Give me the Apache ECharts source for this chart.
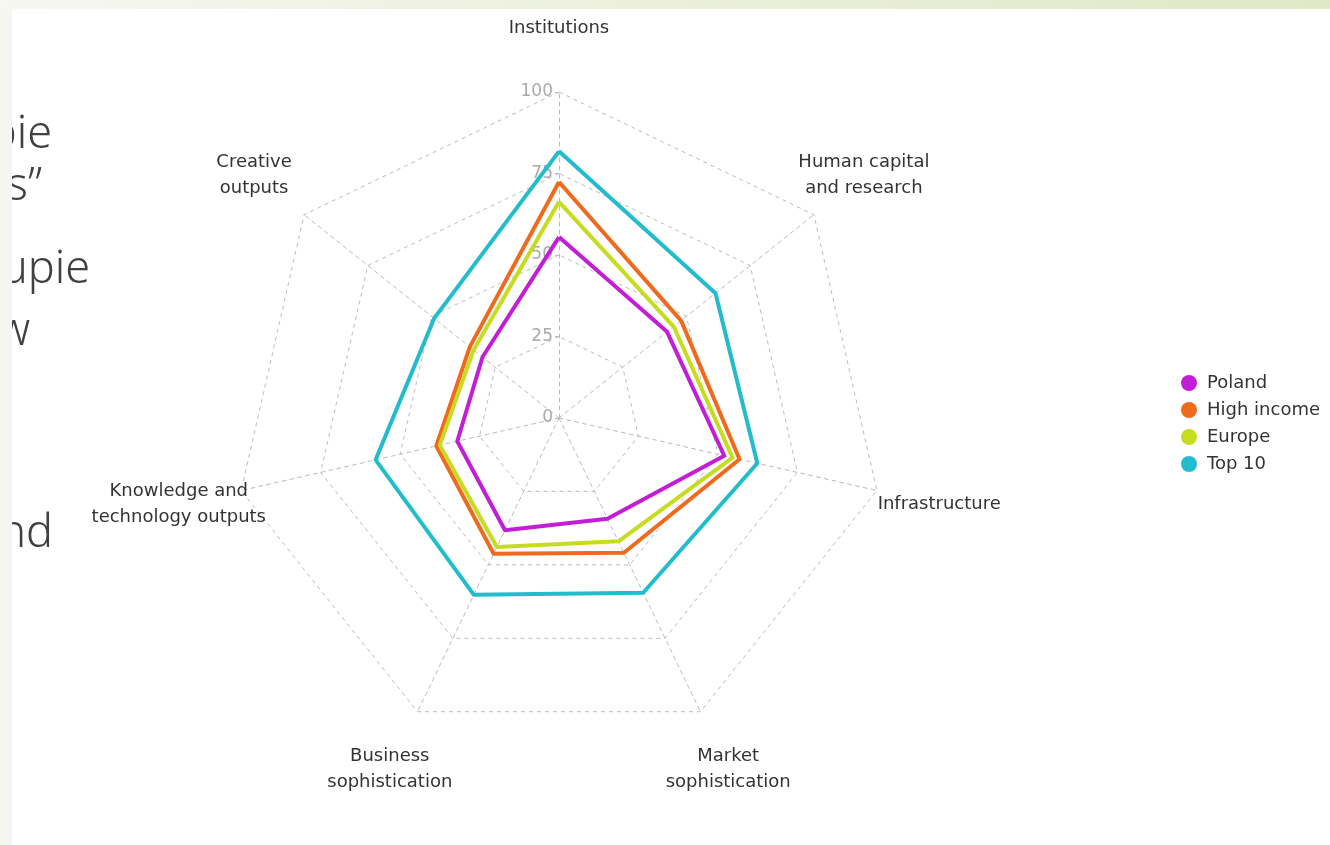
<!DOCTYPE html>
<html>
<head>
    <meta charset="utf-8">
    <title>GII radar</title>
    <script src="https://cdn.jsdelivr.net/npm/echarts@6/dist/echarts.min.js"></script>
    <style>
        html, body { margin: 0; padding: 0; background: #fff; }
    </style>
</head>
<body>
    <div id="main" style="width: 1330px;height:845px;"></div>
    <script type="text/javascript">
        var chartDom = document.getElementById('main');
        var myChart = echarts.init(chartDom);
        var option;

        // radar draws indicators counter-clockwise from the top
        var indicatorNames = [
            'Institutions',
            'Creative\noutputs',
            'Knowledge and\ntechnology outputs',
            'Business\nsophistication',
            'Market\nsophistication',
            'Infrastructure',
            'Human capital\nand research'
        ];
        var seriesNames = ['Poland', 'High income', 'Europe', 'Top 10'];
        var poland = [55.5, 30, 32, 38.2, 34.3, 52, 42.4];
        var highIncome = [72.4, 35, 38.6, 46.2, 45.9, 56.8, 47.9];
        var europe = [66.3, 33.5, 37.5, 43.9, 42, 54.6, 45];
        var top10 = [81.8, 49, 57.7, 60.2, 59.5, 62.4, 61.4];
        var colors = ['#c21ed6', '#f06a1e', '#c6dc1e', '#22bccd'];

        // leftovers of the slide text that sits behind the chart
        var slideText = [
            { text: 'pie', x: 52, y: 158 },
            { text: 'es\u201d', x: 42, y: 210 },
            { text: 'upie', x: 90, y: 293 },
            { text: 'w', x: 30, y: 355 },
            { text: 'nd', x: 53, y: 557 }
        ];

        var font = 'DejaVu Sans';
        var dash = [4, 4];
        var gridColor = '#bcbcbc';

        var indicators = indicatorNames.map(function (n, i) {
            var ind = { name: n, min: 0, max: 100 };
            if (i === 0) {
                ind.axisLabel = { show: true, color: '#aaa', fontSize: 17, fontFamily: font, margin: 6 };
                ind.axisTick = { show: true, length: 4, lineStyle: { color: '#bbb' } };
            }
            return ind;
        });

        var lists = [poland, highIncome, europe, top10];
        var series = lists.map(function (vals, i) {
            return {
                type: 'radar',
                name: seriesNames[i],
                symbol: 'none',
                z: 2 + i,
                lineStyle: { width: 4, color: colors[i] },
                itemStyle: { color: colors[i] },
                data: [{ name: seriesNames[i], value: vals }]
            };
        });

        var graphics = slideText.map(function (t) {
            return {
                type: 'text',
                x: t.x,
                y: t.y,
                z: 1,
                style: {
                    text: t.text,
                    fill: '#404040',
                    font: '300 45px "Noto Sans"',
                    textAlign: 'right',
                    textVerticalAlign: 'bottom'
                }
            };
        });
        graphics.push({
            type: 'rect', z: 10,
            shape: { x: 0, y: 0, width: 12, height: 845 },
            style: { fill: '#f5f6ef' }
        });
        graphics.push({
            type: 'rect', z: 11,
            shape: { x: 0, y: 0, width: 1330, height: 9 },
            style: {
                fill: new echarts.graphic.LinearGradient(0, 0, 1, 0, [
                    { offset: 0, color: '#f6f7f0' },
                    { offset: 1, color: '#e0e8c6' }
                ])
            }
        });

        option = {
            backgroundColor: '#fff',
            animation: false,
            color: colors,
            graphic: graphics,
            legend: {
                orient: 'vertical',
                left: 1176,
                top: 369,
                itemWidth: 26,
                itemHeight: 16,
                itemGap: 9,
                icon: 'circle',
                data: seriesNames,
                textStyle: { color: '#333', fontSize: 18, fontFamily: font }
            },
            radar: {
                center: [559, 418],
                radius: 326,
                shape: 'polygon',
                splitNumber: 4,
                indicator: indicators,
                axisNameGap: 64,
                axisName: {
                    color: '#333',
                    fontSize: 18,
                    fontFamily: font,
                    lineHeight: 26,
                    align: 'center',
                    verticalAlign: 'middle'
                },
                axisLine: { lineStyle: { color: gridColor, type: dash } },
                splitLine: { lineStyle: { color: gridColor, type: dash } },
                splitArea: { show: false }
            },
            series: series
        };

        option && myChart.setOption(option);
    </script>
</body>
</html>
